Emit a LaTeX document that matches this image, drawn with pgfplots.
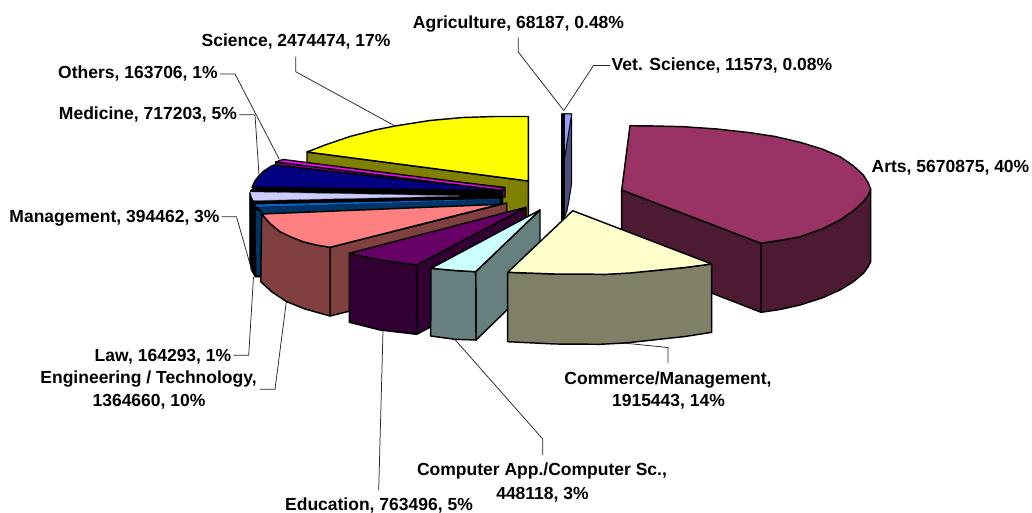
\documentclass[border=0pt]{standalone}
\usepackage{pgfplots}
\usepackage{fontspec}
\setmainfont{Liberation Sans}
\pgfplotsset{compat=1.18}
\definecolor{cYel}{HTML}{FFFF00}\definecolor{cOli}{HTML}{808000}
\definecolor{cMag}{HTML}{FF00FF}\definecolor{cMagD}{HTML}{800080}
\definecolor{cNav}{HTML}{000080}\definecolor{cNavD}{HTML}{000040}
\definecolor{cLav}{HTML}{CCCCFF}\definecolor{cBlu}{HTML}{0066CC}\definecolor{cBluD}{HTML}{003366}
\definecolor{cPin}{HTML}{FF8080}\definecolor{cPinD}{HTML}{804040}
\definecolor{cPur}{HTML}{660066}\definecolor{cPurD}{HTML}{330033}
\definecolor{cCya}{HTML}{CCFFFF}\definecolor{cCyaD}{HTML}{668080}
\definecolor{cCre}{HTML}{FFFFCC}\definecolor{cCreD}{HTML}{808066}
\definecolor{cArt}{HTML}{993366}\definecolor{cArtD}{HTML}{4D1A33}
\definecolor{cVet}{HTML}{9999FF}\definecolor{cVetD}{HTML}{4D4D80}
\pgfplotsset{
  face/.style={fill=#1,draw=black,line width=1.45pt,line join=round,mark=none},
  lead/.style={draw=black!85,line width=0.75pt,mark=none}
}
\tikzset{lab/.style={anchor=base,inner sep=0pt,font=\fontsize{17.5}{20}\selectfont\bfseries,text=black}}
\begin{document}
\begin{tikzpicture}
\begin{axis}[width=1032pt,height=512pt,scale only axis,xmin=0,xmax=1032,ymin=0,ymax=512,y dir=reverse,hide axis,clip=false]
\path (axis cs:0,0) rectangle (axis cs:1032,512);
% Science
\addplot[face=cOli] coordinates {(307,152)(307,165)(528.3,225)(528.3,181)} --cycle;
\addplot[face=cYel] coordinates {(307,152)(325,145)(350,136.5)(375,130)(395,126)(430,120.5)(463,117.5)(495,116.5)(528.3,116.5)(528.3,181)} --cycle;
% Others
\addplot[face=cMagD] coordinates {(275.7,162)(275.7,165.5)(505,197)(505,187.5)} --cycle;
\addplot[face=cMag] coordinates {(276,162)(283,159.5)(505,188)(502,190.5)} --cycle;
% Medicine and the narrow slices behind Law
\addplot[fill=black,draw=black,mark=none] coordinates {(250,191)(255,186)(503,190)(503,208)(255,216)(250,216)} --cycle;
\addplot[face=cNav] coordinates {(252,187.3)(255,181)(258.3,176.7)(264,171)(270.7,166.5)(274,165)(503,190.5)} --cycle;
\addplot[fill=cLav,draw=cLav!60!black,line width=0.4pt,mark=none] coordinates {(250.7,192)(251,197)(252.7,200.5)(460,196)} --cycle;
\addplot[fill=cBluD,draw=black,line width=0.8pt,mark=none] coordinates {(255,207)(255,216)(500,208)(500,198.5)} --cycle;
\addplot[fill=cBlu,draw=none,mark=none] coordinates {(254.5,204.5)(254.5,207)(400,202.5)(500,199)} --cycle;
\addplot[fill=black,draw=black,line width=0.5pt,mark=none] coordinates {(249.7,193)(255,205)(262,212)(262,277)(255,277)(251,270)(249.7,262)} --cycle;
\addplot[fill=cBluD,draw=none,mark=none] coordinates {(255.7,210)(261,212)(261,275)(256.5,275)} --cycle;
% Vet + Agriculture
\addplot[face=cVetD,line width=1pt] coordinates {(561.7,114)(571.7,114)(571.7,183)(569,200)(566.7,212)(562,222)} --cycle;
\addplot[face=cVet,line width=1pt] coordinates {(561.7,114)(571.7,114)(563.5,165)} --cycle;
\addplot[fill=black,draw=black,line width=0.3pt,mark=none] coordinates {(561,114)(564,114)(564,222)(561,222)} --cycle;
% Arts
\addplot[face=cArtD] coordinates {(621.7,190)(761,243.3)(761,312.3)(621.7,258)} --cycle;
\addplot[face=cArtD] coordinates {(761,243.3)(785,239.5)(800,236.7)(822,229)(840,220)(853,211)(863.3,201.7)(868,195.5)(870.7,189.3)(870.7,261.7)(868,267)(863.3,273.3)(853,282)(840,290)(822,298)(800,305)(780,309.5)(761,312.3)} --cycle;
\addplot[face=cArt] coordinates {(630,125.7)(621.7,190)(761,243.3)(785,239.5)(800,236.7)(822,229)(840,220)(853,211)(863.3,201.7)(868,195.5)(870.7,189.3)(868,182.5)(863.3,175)(853,165.5)(840,156.7)(822,149)(800,142.3)(775,136.5)(750,132.7)(717,129)(683.3,126.7)(655,126)} --cycle;
% Engineering
\addplot[face=cPinD] coordinates {(330,247.3)(506.7,203)(506.7,272)(330,316)} --cycle;
\addplot[face=cPinD] coordinates {(261.7,214)(270,223.5)(280,231.7)(303,241.7)(330,247.3)(330,316)(305,309)(286.7,301.7)(272,292)(260.7,281.7)} --cycle;
\addplot[face=cPin] coordinates {(261.7,214)(270,223.5)(280,231.7)(291,237)(303,241.7)(316,245)(330,247.3)(500,204.3)} --cycle;
% Education
\addplot[face=cPurD] coordinates {(416.7,265)(526,207.3)(526,277)(416.7,334.3)} --cycle;
\addplot[face=cPurD] coordinates {(349.3,253.3)(380,260)(416.7,265)(416.7,334.3)(380,330)(349.3,322.3)} --cycle;
\addplot[face=cPur] coordinates {(349.3,253.3)(380,260)(416.7,265)(526,207.3)} --cycle;
% Computer App
\addplot[face=cCyaD] coordinates {(475.7,271.7)(540,210)(540,278)(476,340)} --cycle;
\addplot[face=cCyaD] coordinates {(431,268.3)(455,270.5)(475.7,271.7)(476,340)(455,339.3)(430.7,336)} --cycle;
\addplot[face=cCya] coordinates {(431,268.3)(455,270.5)(475.7,271.7)(540,210)} --cycle;
% Commerce
\addplot[face=cCreD] coordinates {(507.7,272.3)(555,274)(606.7,274.3)(653,270.7)(685,267.5)(711.7,264)(711.7,332.3)(685,336.5)(653,340)(625,343)(600,344.3)(555,344)(507.7,341.7)} --cycle;
\addplot[face=cCre] coordinates {(572.7,210.7)(711.7,264)(685,267.5)(653,270.7)(630,273)(606.7,274.3)(555,274)(507.7,272.3)} --cycle;
% Leaders
\addplot[lead] coordinates {(518.3,37.3)(518.3,52)(563.3,110)};
\addplot[lead] coordinates {(610,65.5)(593.5,65.5)(563.5,111)};
\addplot[lead] coordinates {(295.7,56.7)(295.7,71.7)(395,126)};
\addplot[lead] coordinates {(220,74)(235,74)(279.3,159.3)};
\addplot[lead] coordinates {(239.3,114.7)(255,114.7)(259,175)};
\addplot[lead] coordinates {(221.7,216.7)(236.5,216.7)(251.7,270)};
\addplot[lead] coordinates {(233.3,355.3)(248.7,355.3)(253.5,277)};
\addplot[lead] coordinates {(259.7,389.3)(275,389.3)(286.3,302)};
\addplot[lead] coordinates {(378.7,490)(383,331)};
\addplot[lead] coordinates {(542.7,455)(542.7,439)(455.3,340)};
\addplot[lead] coordinates {(668,363)(668,347.5)(623,343)};
% Labels
\node[lab] at (axis cs:518.5,28.3) {Agriculture, 68187, 0.48\%};
\node[lab] at (axis cs:722,71) {Vet. Science, 11573, 0.08\%};
\node[lab] at (axis cs:296,46.7) {Science, 2474474, 17\%};
\node[lab] at (axis cs:138,78.7) {Others, 163706, 1\%};
\node[lab] at (axis cs:148,120) {Medicine, 717203, 5\%};
\node[lab] at (axis cs:114.5,222) {Management, 394462, 3\%};
\node[lab] at (axis cs:163,361) {Law, 164293, 1\%};
\node[lab] at (axis cs:148.5,383.3) {Engineering / Technology,};
\node[lab] at (axis cs:149,406) {1364660, 10\%};
\node[lab] at (axis cs:379,510) {Education, 763496, 5\%};
\node[lab] at (axis cs:542,475.7) {Computer App./Computer Sc.,};
\node[lab] at (axis cs:542.5,499) {448118, 3\%};
\node[lab] at (axis cs:668,384) {Commerce/Management,};
\node[lab] at (axis cs:668.5,406) {1915443, 14\%};
\node[lab] at (axis cs:950.5,172.5) {Arts, 5670875, 40\%};
\end{axis}
\end{tikzpicture}
\end{document}
